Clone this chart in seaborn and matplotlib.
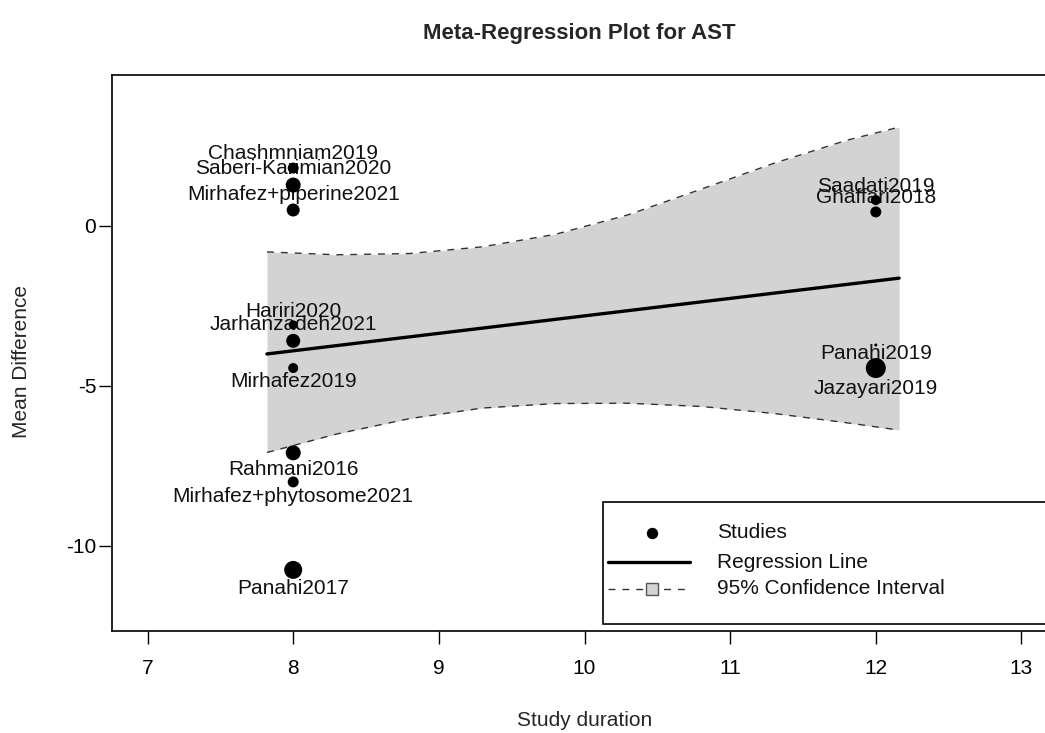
import numpy as np
import pandas as pd
import matplotlib
matplotlib.use("Agg")
import matplotlib.pyplot as plt
import seaborn as sns
from matplotlib.patches import Rectangle

# ---------------- data ----------------
studies = ["Chashmniam2019", "Saberi-Karimian2020", "Mirhafez+piperine2021",
           "Hariri2020", "Jarhanzadeh2021", "Mirhafez2019", "Rahmani2016",
           "Mirhafez+phytosome2021", "Panahi2017",
           "Saadati2019", "Ghaffari2018", "Panahi2019", "Jazayari2019"]
duration = [8, 8, 8, 8, 8, 8, 8, 8, 8, 12, 12, 12, 12]
mean_diff = [1.81, 1.28, 0.50, -3.09, -3.59, -4.44, -7.09, -8.00, -10.75,
             0.81, 0.44, -3.72, -4.44]
weights = [11, 15, 13, 9, 14, 10, 15, 11, 18, 10, 11, 3, 20]   # relative study weights

reg_x = [7.82, 12.16]
reg_y = [-4.00, -1.63]

ci_x = [7.82, 8.3, 8.8, 9.3, 9.8, 10.3, 10.8, 11.3, 11.8, 12.16]
ci_upper = [-0.81, -0.90, -0.86, -0.65, -0.26, 0.35, 1.15, 1.96, 2.68, 3.09]
ci_lower = [-7.08, -6.50, -6.02, -5.69, -5.55, -5.54, -5.64, -5.86, -6.15, -6.38]

x_ticks = [7, 8, 9, 10, 11, 12, 13]
y_ticks = [-10, -5, 0]

title = "Meta-Regression Plot for AST"
x_label = "Study duration"
y_label = "Mean Difference"
legend_labels = ["Studies", "Regression Line", "95% Confidence Interval"]

# ---------------- style ----------------
sns.set_theme(style="white")
plt.rcParams['font.family'] = ['Liberation Sans', 'DejaVu Sans']
FS = 15

W, H = 1045, 733
fig = plt.figure(figsize=(W / 100, H / 100), dpi=100)
ax = fig.add_axes([112 / W, 1 - 631 / H, 945 / W, 556 / H])

df = pd.DataFrame({"study": studies, "duration": duration,
                   "md": mean_diff, "w": weights})
ci = pd.DataFrame({"x": ci_x, "lo": ci_lower, "hi": ci_upper})
reg = pd.DataFrame({"x": reg_x, "y": reg_y})

# confidence band
ax.fill_between(ci["x"], ci["lo"], ci["hi"], color="#D3D3D3", lw=0, zorder=1)
sns.lineplot(data=ci, x="x", y="hi", ax=ax, color="#333333", lw=1.0,
             linestyle=(0, (5, 5)), zorder=2, sort=False)
sns.lineplot(data=ci, x="x", y="lo", ax=ax, color="#333333", lw=1.0,
             linestyle=(0, (5, 5)), zorder=2, sort=False)
# regression line
sns.lineplot(data=reg, x="x", y="y", ax=ax, color="black", lw=2.4, zorder=3)

# labels (above if point above the regression line, below otherwise)
fitted = np.interp(df["duration"], reg["x"], reg["y"])
for name, x, y, w, f in zip(df["study"], df["duration"], df["md"], df["w"], fitted):
    off_px = 7 + 0.65 * w
    sign = 1 if y > f else -1
    ax.annotate(name, (x, y), xytext=(0, sign * off_px * 0.72),
                textcoords="offset points", ha="center", va="center",
                fontsize=FS, color="#111111", zorder=4)

# points
sizes = (0.72 * df["w"].to_numpy()) ** 2
sns.scatterplot(data=df, x="duration", y="md", ax=ax, s=sizes, color="black",
                edgecolor="black", linewidth=0, zorder=5, legend=False)

ax.set_xlim(6.756, 13.244)
ax.set_ylim(-12.66, 4.72)
ax.set_xticks(x_ticks)
ax.set_yticks(y_ticks)
ax.set_xticklabels([str(t) for t in x_ticks])
ax.set_yticklabels([str(t) for t in y_ticks])
ax.set_xlabel("")
ax.set_ylabel("")
ax.tick_params(axis="x", bottom=True, direction="out", length=9.4, width=1.0,
               pad=11, labelsize=FS, colors="black")
ax.tick_params(axis="y", left=True, direction="out", length=9.4, width=1.0,
               pad=2, labelsize=FS, colors="black")
for sp in ax.spines.values():
    sp.set_visible(True)
    sp.set_color("black")
    sp.set_linewidth(1.2)

fig.text(579 / W, 1 - 33 / H, title, ha="center", va="center",
         fontsize=16, fontweight="bold")
fig.text(585 / W, 1 - 721 / H, x_label, ha="center", va="center", fontsize=FS)
fig.text(22 / W, 1 - 362 / H, y_label, ha="center", va="center",
         fontsize=FS, rotation=90)

# legend drawn in pixel space on an overlay
lax = fig.add_axes([0, 0, 1, 1], zorder=10)
lax.set_xlim(0, W)
lax.set_ylim(H, 0)
lax.axis("off")
lax.add_patch(Rectangle((603, 502), 520, 122, facecolor="white",
                        edgecolor="black", lw=1.2, clip_on=False))
rows = [533, 562, 589]
lax.plot([652], [rows[0]], marker="o", ms=7.2, color="black", ls="none")
lax.plot([608, 690], [rows[1], rows[1]], color="black", lw=2.4)
lax.plot([608, 690], [rows[2], rows[2]], color="#333333", lw=1.0,
         linestyle=(0, (5, 5)))
lax.plot([652], [rows[2]], marker="s", ms=8.5, markerfacecolor="#D3D3D3",
         markeredgecolor="#555555", markeredgewidth=1.0, ls="none")
for lab, yy in zip(legend_labels, rows):
    lax.text(717, yy, lab, ha="left", va="center", fontsize=FS, color="#111111")

fig.savefig("out.png", dpi=100)
